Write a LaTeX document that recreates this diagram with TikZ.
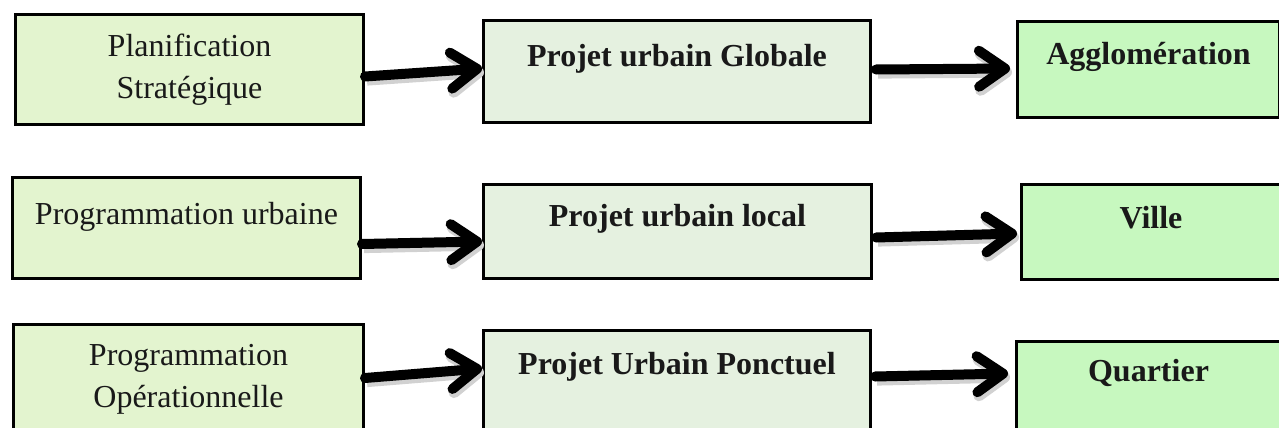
\documentclass[tikz,border=0pt]{standalone}
\usepackage{fontspec}
\setmainfont{Liberation Serif}
\usepackage{tikz}
\usetikzlibrary{positioning, arrows.meta}

\begin{document}
\begin{tikzpicture}[
    x=0.5pt, y=-0.5pt,
    box/.style={rectangle, draw=black, line width=1.5pt, inner sep=0pt,
        anchor=north west, align=center, text=black!90,
        font=\fontsize{16pt}{21pt}\selectfont},
    planbox/.style={box, fill=planfill},
    projbox/.style={box, fill=projfill, font=\fontsize{16pt}{21pt}\selectfont\bfseries},
    echellebox/.style={box, fill=echfill, font=\fontsize{16pt}{21pt}\selectfont\bfseries},
    flow/.style={line width=5pt, line cap=round, black,
        -{Straight Barb[length=13pt, width=18pt, round]},
        preaction={draw=black!18, line width=5.5pt,
            transform canvas={shift={(1pt,-1.8pt)}}}},
]

% ── Colors ──
\definecolor{planfill}{HTML}{E3F4CF}
\definecolor{projfill}{HTML}{E5F1E0}
\definecolor{echfill}{HTML}{C7F8BF}

\useasboundingbox (0,0) rectangle (1279,428);

% ══════════════════════════════════════════════
% ROW 1: strategic level
% ══════════════════════════════════════════════
\node[planbox, minimum width=174pt, minimum height=55pt]
    at (14,13) (plan) {Planification\\Stratégique};
\node[projbox, minimum width=193.5pt, text height=23pt, text depth=28pt]
    at (482,19) (globale) {Projet urbain Globale};
\node[echellebox, minimum width=131pt, text height=21.5pt, text depth=26.5pt]
    at (1016,20) (agglo) {Agglomération};

\draw[flow] ([yshift=-3.5pt]plan.east) -- ([yshift=1.5pt]globale.west);
\draw[flow] ([xshift=2pt, yshift=1pt]globale.east) -- ([xshift=-3pt, yshift=0.5pt]agglo.west);

% ══════════════════════════════════════════════
% ROW 2: urban programming
% ══════════════════════════════════════════════
\node[planbox, minimum width=174pt, text height=23.5pt, text depth=27pt]
    at (11,176) (progurb) {Programmation urbaine};
\node[projbox, minimum width=194pt, text height=21pt, text depth=26pt]
    at (482,183) (local) {Projet urbain local};
\node[echellebox, minimum width=129.5pt, text height=22pt, text depth=25.5pt]
    at (1020,183) (ville) {Ville};

\draw[flow] ([yshift=-8pt]progurb.east) -- ([yshift=-5pt]local.west);
\draw[flow] ([xshift=1.5pt, yshift=-3pt]local.east) -- ([xshift=-1.5pt, yshift=-0.75pt]ville.west);

% ══════════════════════════════════════════════
% ROW 3: operational level
% ══════════════════════════════════════════════
\node[planbox, minimum width=175pt, minimum height=55pt]
    at (12,323) (progop) {Programmation\\Opérationnelle};
\node[projbox, minimum width=193.5pt, text height=22pt, text depth=33.5pt]
    at (482,329) (ponctuel) {Projet Urbain Ponctuel};
\node[echellebox, minimum width=132pt, text height=20pt, text depth=30pt]
    at (1015,340) (quartier) {Quartier};

\draw[flow] ([yshift=0.75pt]progop.east) -- ([yshift=8.75pt]ponctuel.west);
\draw[flow] ([xshift=1.5pt, yshift=4.75pt]ponctuel.east) -- ([xshift=-3.5pt, yshift=9pt]quartier.west);

\end{tikzpicture}
\end{document}
